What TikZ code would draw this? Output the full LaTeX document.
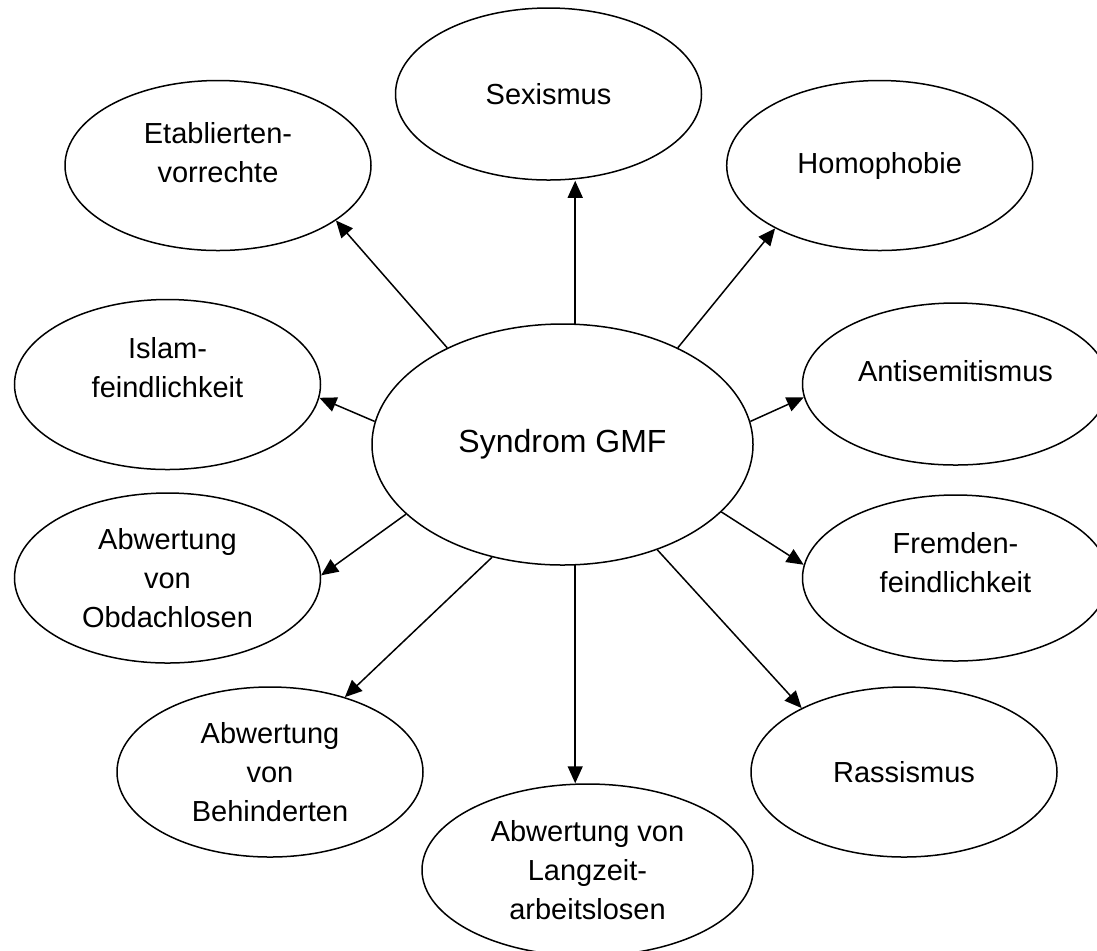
\documentclass[tikz,border=0pt]{standalone}
\usepackage{fontspec}
\setmainfont{Liberation Sans}
\usetikzlibrary{shapes.geometric,arrows.meta}

\begin{document}
\begin{tikzpicture}[x=0.5pt,y=-0.5pt,
   blob/.style={draw,ellipse,line width=0.75pt,inner sep=0pt,
     minimum width=153pt,minimum height=85pt,align=center,
     font=\fontsize{14.5}{19.5}\selectfont},
   >={Triangle[length=8.5pt,width=7.5pt]}]
   \clip (0,0) rectangle (1097,950);
   \node[blob,minimum width=190.5pt,minimum height=120.5pt,
     font=\fontsize{16}{19.5}\selectfont] (gmf) at (562.5,444.5) {Syndrom GMF};
   \node[blob,minimum height=86pt] (sex) at (548.5,94) {Sexismus};
   \node[blob,text depth=13pt] (etab) at (218,165.5) {Etablierten-\\vorrechte};
   \node[blob] (homo) at (879.7,165.5) {Homophobie};
   \node[blob,text depth=17pt] (islam) at (167.5,384.5) {Islam-\\feindlichkeit};
   \node[blob,minimum height=81pt,text depth=13pt] (anti) at (955.5,384) {Antisemitismus};
   \node[blob] (obd) at (167.5,578) {Abwertung\\von\\Obdachlosen};
   \node[blob,minimum height=83pt,text depth=16pt] (frem) at (955.5,578) {Fremden-\\feindlichkeit};
   \node[blob] (beh) at (270,772) {Abwertung\\von\\Behinderten};
   \node[blob] (rass) at (904,772) {Rassismus};
   \node[blob,minimum width=165.5pt,minimum height=86pt] (lang) at (587.5,870)
     {Abwertung von\\Langzeit-\\arbeitslosen};
   % arrows out of the syndrome
   \foreach \a/\n/\b in {140/etab/-25,40/homo/211,7/anti/185,-23/frem/175.5,
       -48/rass/148,-122/beh/45,-156/obd/1.5,173/islam/-5} {
    \draw[->,line width=0.75pt] (gmf.\a) -- (\n.\b);
   }
   \draw[->,line width=0.75pt] (gmf.84) -- (gmf.84 |- sex.south);
   \draw[->,line width=0.75pt] (gmf.-84) -- (gmf.-84 |- lang.north);
\end{tikzpicture}
\end{document}
